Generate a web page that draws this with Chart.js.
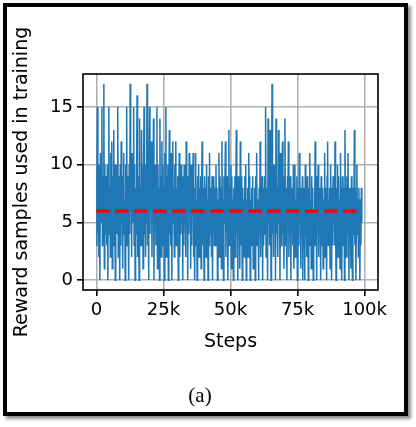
<!DOCTYPE html>
<html>
<head>
<meta charset="utf-8">
<script src="https://cdn.jsdelivr.net/npm/chart.js@4.4.1/dist/chart.umd.min.js"></script>
<style>
  html, body { margin: 0; padding: 0; background: #fff; }
  #wrap { position: relative; width: 416px; height: 427px; overflow: hidden; }
  #frame {
    position: absolute; left: 3px; top: 3px; width: 405px; height: 413px;
    box-sizing: border-box; border: 4px solid #000;
    box-shadow: 3px 3px 3px rgba(0,0,0,0.45);
  }
  #chart { position: absolute; left: 0; top: 0; }
  #caption {
    position: absolute; left: 0; width: 400px; top: 383px; text-align: center;
    font-family: "Liberation Serif", serif; font-size: 21px; color: #000;
  }
</style>
</head>
<body>
<div id="wrap">
  <div id="frame"></div>
  <canvas id="chart" width="416" height="427"></canvas>
  <div id="caption">(a)</div>
</div>
<script>
const rewardSamples = [
  3, 9, 15, 4, 10, 2, 8, 0, 11, 5, 7, 15, 3, 9, 6, 17, 1, 10, 4, 8,
  9, 3, 10, 0, 7, 15, 4, 8, 2, 11, 6, 12, 1, 9, 5, 13, 3, 10, 0, 7,
  10, 4, 8, 15, 2, 9, 6, 0, 10, 3, 12, 5, 8, 1, 9, 11, 4, 7, 0, 10,
  5, 15, 3, 9, 7, 0, 10, 4, 17, 6, 9, 2, 11, 5, 8, 15, 3, 10, 0, 8,
  4, 10, 16, 2, 9, 6, 0, 14, 5, 8, 3, 13, 7, 10, 1, 9, 15, 4, 8, 2,
  10, 5, 17, 3, 8, 0, 9, 15, 4, 10, 6, 12, 2, 9, 7, 14, 0, 8, 5, 10,
  3, 9, 15, 1, 10, 6, 8, 0, 14, 4, 9, 2, 12, 7, 10, 3, 8, 0, 11, 5,
  15, 2, 9, 6, 10, 0, 8, 13, 4, 9, 3, 11, 0, 7, 12, 5, 8, 2, 10, 6,
  12, 3, 8, 5, 9, 0, 7, 11, 2, 9, 4, 10, 6, 8, 0, 9, 3, 10, 5, 7,
  2, 12, 5, 8, 0, 9, 4, 11, 6, 8, 1, 10, 3, 9, 7, 11, 2, 8, 0, 6,
  11, 3, 7, 0, 9, 5, 10, 2, 8, 4, 9, 1, 7, 12, 3, 8, 6, 0, 9, 4,
  8, 2, 10, 5, 7, 0, 9, 3, 11, 4, 8, 6, 2, 9, 0, 7, 5, 9, 3, 8,
  3, 10, 5, 8, 0, 7, 4, 11, 2, 9, 6, 8, 1, 12, 4, 7, 0, 9, 5, 8,
  12, 2, 8, 5, 9, 0, 7, 13, 3, 8, 6, 10, 1, 9, 4, 7, 0, 8, 5, 9,
  2, 8, 13, 4, 7, 0, 9, 5, 8, 1, 12, 3, 9, 6, 0, 8, 4, 7, 2, 9,
  5, 10, 0, 7, 4, 8, 2, 11, 6, 9, 0, 7, 3, 8, 5, 9, 1, 6, 4, 8,
  0, 9, 5, 11, 3, 7, 6, 0, 8, 4, 12, 2, 7, 5, 9, 0, 8, 3, 6, 9,
  4, 15, 2, 8, 6, 0, 14, 5, 9, 3, 13, 7, 0, 8, 17, 4, 9, 2, 10, 6,
  9, 0, 14, 4, 8, 6, 2, 13, 5, 9, 0, 11, 7, 3, 8, 12, 4, 9, 1, 7,
  14, 3, 8, 5, 0, 9, 6, 12, 2, 7, 4, 9, 0, 8, 5, 7, 3, 10, 1, 6,
  10, 2, 7, 4, 9, 0, 6, 8, 3, 11, 5, 7, 1, 8, 4, 9, 0, 6, 3, 8,
  0, 10, 4, 7, 2, 9, 6, 0, 8, 3, 11, 5, 7, 1, 9, 4, 8, 0, 6, 3,
  7, 12, 3, 8, 0, 9, 5, 10, 2, 7, 4, 8, 0, 9, 6, 3, 8, 1, 7, 4,
  11, 2, 8, 5, 0, 9, 12, 3, 7, 4, 8, 1, 10, 6, 0, 8, 3, 9, 5, 7,
  3, 12, 6, 0, 8, 4, 10, 2, 9, 5, 7, 1, 11, 4, 8, 0, 9, 6, 3, 8,
  0, 13, 5, 8, 2, 9, 4, 11, 6, 0, 8, 3, 7, 1, 9, 5, 0, 8, 4, 6,
  13, 3, 8, 0, 6, 10, 4, 7, 2, 8, 5, 0, 7, 3, 8, 5
];
const stepSpacing = 185;
const steps = rewardSamples.map((_, i) => i * stepSpacing);

const meanLevel = 6;
const meanSpan = [0, 99000];

const xTicks = [0, 25000, 50000, 75000, 100000];
const xTickLabels = ['0', '25k', '50k', '75k', '100k'];
const yTicks = [0, 5, 10, 15];

const tickFont = { family: 'DejaVu Sans', size: 18 };
const titleFont = { family: 'DejaVu Sans', size: 19 };

// box around the axes like matplotlib spines
const spines = {
  id: 'spines',
  afterDatasetsDraw(chart) {
    const { ctx, chartArea: a } = chart;
    ctx.save();
    ctx.strokeStyle = '#000';
    ctx.lineWidth = 1.6;
    ctx.strokeRect(a.left, a.top, a.right - a.left, a.bottom - a.top);
    ctx.restore();
  }
};

new Chart(document.getElementById('chart'), {
  type: 'line',
  data: {
    datasets: [{
      // first dataset is painted last, so the mean line sits on top
      data: meanSpan.map(s => ({ x: s, y: meanLevel })),
      borderColor: '#ff0000',
      borderWidth: 3.5,
      borderDash: [13, 6],
      pointRadius: 0,
      fill: false
    }, {
      data: steps.map((s, i) => ({ x: s, y: rewardSamples[i] })),
      borderColor: '#1f77b4',
      borderWidth: 1.5,
      pointRadius: 0,
      tension: 0,
      fill: false
    }]
  },
  options: {
    responsive: false,
    animation: false,
    devicePixelRatio: 1,
    layout: { padding: { left: 4, top: 74, right: 38, bottom: 67 } },
    plugins: { legend: { display: false }, tooltip: { enabled: false } },
    scales: {
      x: {
        type: 'linear',
        min: -5000,
        max: 105000,
        afterBuildTicks: axis => { axis.ticks = xTicks.map(v => ({ value: v })); },
        afterFit: axis => { axis.height = 70; },
        grid: { color: '#b0b0b0', lineWidth: 1.6, tickColor: '#000', tickLength: 6, tickWidth: 1.6 },
        border: { display: false },
        ticks: {
          color: '#000', font: tickFont, padding: 4, maxRotation: 0,
          callback: (v) => xTickLabels[xTicks.indexOf(v)]
        },
        title: { display: true, text: 'Steps', color: '#000', font: titleFont, padding: { top: 2, bottom: 7 } }
      },
      y: {
        min: -0.85,
        max: 17.85,
        afterBuildTicks: axis => { axis.ticks = yTicks.map(v => ({ value: v })); },
        afterFit: axis => { axis.width = 79; },
        grid: { color: '#b0b0b0', lineWidth: 1.6, tickColor: '#000', tickLength: 6, tickWidth: 1.6 },
        border: { display: false },
        ticks: { color: '#000', font: tickFont, padding: 4 },
        title: { display: true, text: 'Reward samples used in training', color: '#000', font: titleFont, padding: { top: 7, bottom: 2 } }
      }
    }
  },
  plugins: [spines]
});
</script>
</body>
</html>
